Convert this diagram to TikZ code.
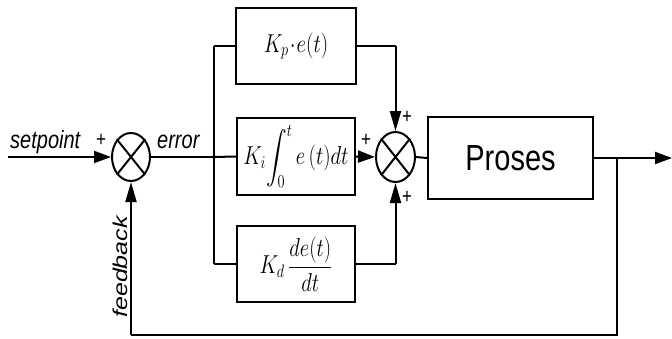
\documentclass[tikz,border=0pt]{standalone}
\usepackage{fontspec}
\usepackage{amsmath}
\newfontfamily\arialfont{Liberation Sans}
\usetikzlibrary{arrows.meta,shapes.geometric}
\tikzset{
  blk/.style={draw,line width=2pt,minimum width=118pt,minimum height=76pt,inner sep=0pt},
  sumj/.style={draw,ellipse,line width=2pt,minimum width=38pt,minimum height=48pt,inner sep=0pt},
  wire/.style={line width=2pt},
  arr/.style={wire,-{Triangle[length=17pt,width=12pt]}},
  varr/.style={wire,-{Triangle[length=20pt,width=11pt]}},
  lbl/.style={inner sep=0pt,font=\arialfont\itshape\fontsize{20}{24}\selectfont},
  pls/.style={inner sep=0pt,font=\arialfont\fontsize{17}{20}\selectfont},
  mth/.style={inner sep=0pt,font=\fontsize{20}{24}\selectfont}
}
\newcommand{\vst}[1]{\scalebox{1}[1.25]{#1}}
\newcommand{\hst}[1]{\scalebox{1.25}[1]{#1}}
\begin{document}
\begin{tikzpicture}[x=1pt,y=-1pt]
\useasboundingbox (0,0) rectangle (672,338);
% summing junctions
\node[sumj] (s1) at (131,157) {};
\node[sumj,minimum width=39pt,minimum height=50pt] (s2) at (395.5,157) {};
\draw[wire] (s1.north east) -- (s1.south west) (s1.north west) -- (s1.south east);
\draw[wire] (s2.north east) -- (s2.south west) (s2.north west) -- (s2.south east);
% blocks
\node[blk,minimum width=120pt] (kp) at (296,46) {};
\node[mth] at (kp.center) {\vst{$K_p\!\cdot\! e(t)$}};
\node[blk,minimum height=77pt] (ki) at (296,156.5) {};
\node[mth] at (ki.center) {\vst{$\displaystyle K_i\!\int_0^t e\,(t)dt$}};
\node[blk] (kd) at (296,264) {};
\node[mth] at (kd.center) {\vst{$\displaystyle K_d\,\frac{de(t)}{dt}$}};
\node[blk,minimum width=165pt,minimum height=82pt] (pr) at (510.5,158) {};
\node[inner sep=0pt,font=\arialfont\fontsize{29}{34}\selectfont] at (pr.center) {\vst{Proses}};
% coordinates
\coordinate (in) at (8,157);
\coordinate (jt) at (214,46);
\coordinate (jm) at (214,157);
\coordinate (jb) at (214,264);
\coordinate (kpr) at (395.5,46);
\coordinate (kdr) at (395.5,264);
\coordinate (out) at (672,158);
\coordinate (fb1) at (617,158);
\coordinate (fb2) at (617,335);
\coordinate (fb3) at (131,335);
% wires
\draw[arr] (in) -- (s1.west);
\draw[wire] (s1.east) -- (jm);
\draw[wire] (jt) -- (jb);
\draw[wire] (jt) -- (kp.west);
\draw[wire] (jm) -- (ki.west);
\draw[wire] (jb) -- (kd.west);
\draw[wire] (kp.east) -- (kpr);
\draw[varr] (kpr) -- (s2.north);
\draw[arr] (ki.east) -- (s2.west);
\draw[wire] (kd.east) -- (kdr);
\draw[varr] (kdr) -- (s2.south);
\draw[wire] (s2.east) -- (pr.west);
\draw[arr] (pr.east) -- (out);
\draw[wire] (fb1) -- (fb2) -- (fb3);
\draw[varr] (fb3) -- (s1.south);
% labels
\node[lbl,anchor=base west] (tsp) at (10,148) {\vst{setpoint}};
\node[lbl,anchor=base west] (ter) at (157,148) {\vst{error}};
\node[lbl,rotate=90] (tfb) at (120,267) {\hst{feedback}};
\node[pls] (p1) at (101,140) {\vst{+}};
\node[pls] (p2) at (366,140) {\vst{+}};
\node[pls] (p3) at (407,117) {\vst{+}};
\node[pls] (p4) at (407,197) {\vst{+}};
\end{tikzpicture}
\end{document}
